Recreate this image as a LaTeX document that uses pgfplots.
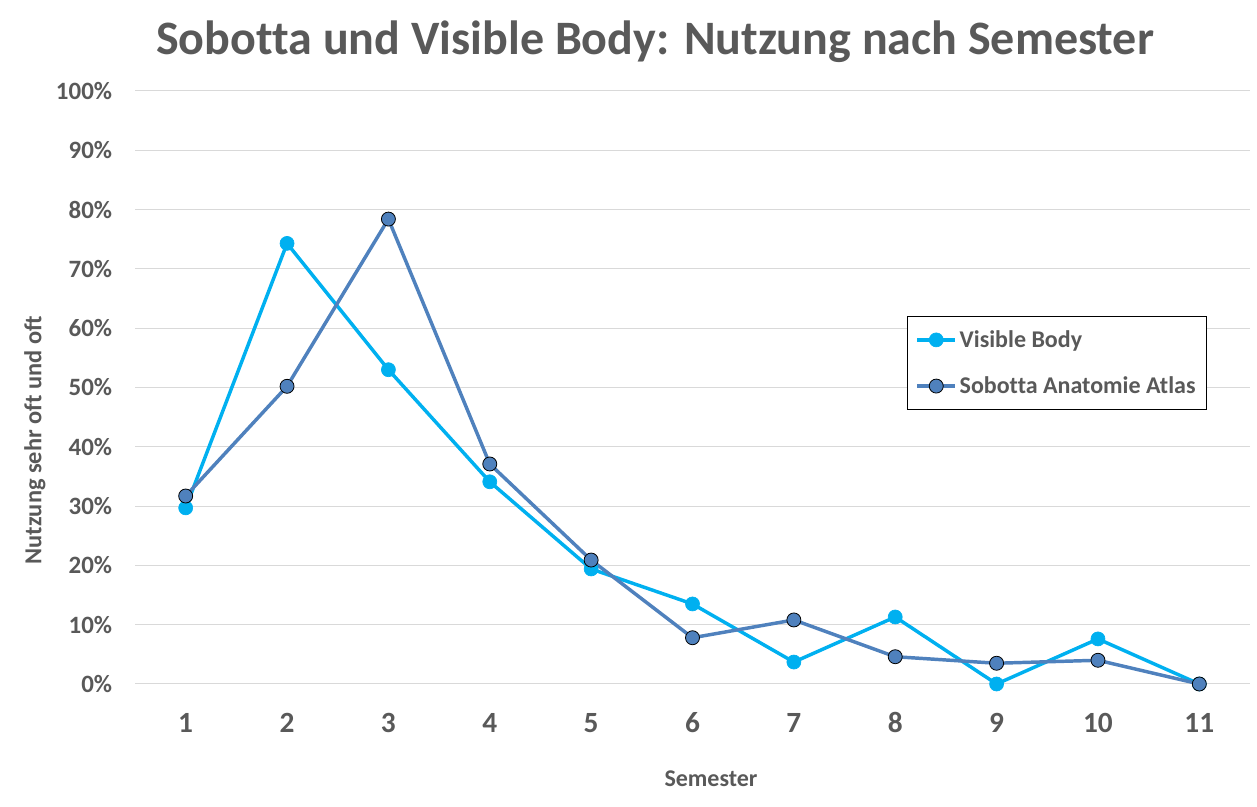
\documentclass[border=0pt]{standalone}
\usepackage{fontspec}
\setmainfont{Carlito}[Ligatures=NoCommon, Contextuals=NoAlternate]
\usepackage{pgfplots}
\pgfplotsset{compat=1.18}
\definecolor{vb}{HTML}{00B0F0}
\definecolor{sob}{HTML}{4F81BD}
\definecolor{txt}{HTML}{595959}
\definecolor{grd}{HTML}{D9D9D9}
\begin{document}
\begin{tikzpicture}
\useasboundingbox (0,0) rectangle (942.75pt,605.25pt);
\begin{axis}[
  at={(101.25pt,92.25pt)}, anchor=south west,
  scale only axis, width=836.25pt, height=444.75pt,
  xmin=0.5, xmax=11.5, ymin=0, ymax=100,
  axis line style={draw=none},
  major tick length=0pt,
  xtick={1,...,11},
  ytick={0,10,...,100},
  yticklabels={0\%,10\%,20\%,30\%,40\%,50\%,60\%,70\%,80\%,90\%,100\%},
  ymajorgrids, major grid style={draw=grd, line width=0.75pt},
  /pgf/number format/assume math mode=true,
  xticklabel style={font=\fontsize{22}{26}\selectfont\bfseries, text=txt, anchor=base, yshift=-36.75pt},
  yticklabel style={font=\fontsize{18.7}{22}\selectfont\bfseries, text=txt, anchor=east, inner sep=0pt, xshift=-17pt},
  legend cell align=left,
  legend style={at={(0.6924,0.6206)}, anchor=north west, draw=black, line width=0.75pt,
    font=\fontsize{18}{21}\selectfont\bfseries, text=txt,
    inner xsep=6pt, inner ysep=8.5pt, row sep=16.5pt,
    /tikz/every even column/.append style={column sep=0pt}},
  legend image code/.code={
    \draw[mark repeat=2, mark phase=2, #1] plot coordinates {(0pt,0pt) (14.25pt,0pt) (28.5pt,0pt)};
  },
]
\addplot[vb, line width=2.6pt, mark=*, mark size=5.25pt, mark options={fill=vb, draw=vb, line width=0.5pt}]
coordinates {(1,29.7) (2,74.3) (3,53.0) (4,34.1) (5,19.4) (6,13.5) (7,3.7) (8,11.3) (9,0.0) (10,7.6) (11,0.0)};
\addlegendentry{Visible Body}
\addplot[sob, line width=2.6pt, mark=*, mark size=5.25pt, mark options={fill=sob, draw=black, line width=0.6pt}]
coordinates {(1,31.7) (2,50.2) (3,78.4) (4,37.1) (5,20.9) (6,7.8) (7,10.8) (8,4.6) (9,3.5) (10,4.0) (11,0.0)};
\addlegendentry{Sobotta Anatomie Atlas}
\end{axis}
\node[anchor=base, text=txt, font=\fontsize{36}{42}\selectfont\bfseries] at (491.25pt,564pt) {Sobotta und Visible Body: Nutzung nach Semester};
\node[anchor=base, text=txt, font=\fontsize{18}{21}\selectfont\bfseries] at (533.25pt,15pt) {Semester};
\node[rotate=90, text=txt, font=\fontsize{18.3}{21}\selectfont\bfseries] at (26.25pt,275.25pt) {Nutzung sehr oft und oft};
\end{tikzpicture}
\end{document}
